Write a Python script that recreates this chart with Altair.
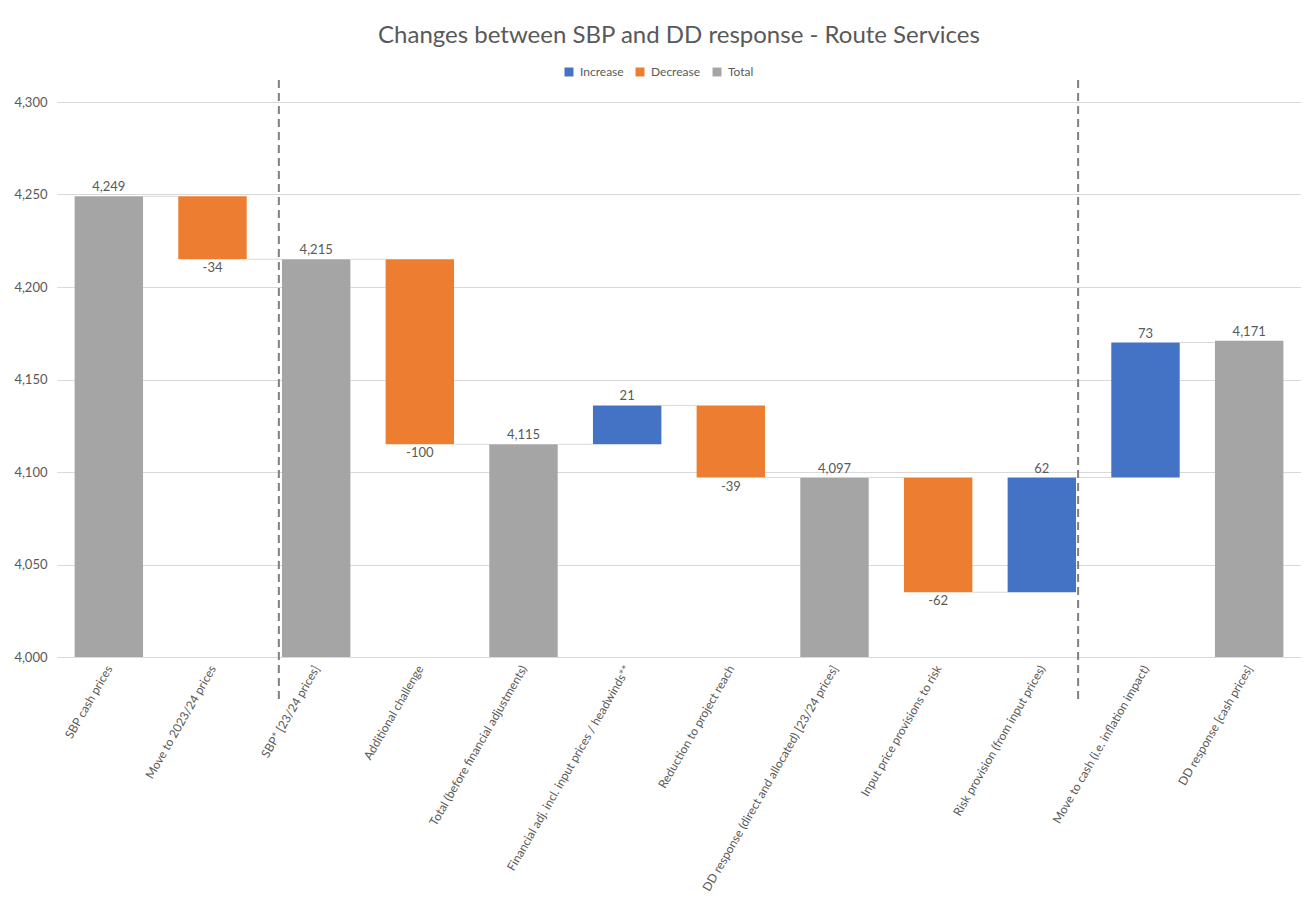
import altair as alt
import pandas as pd

categories = [
    "SBP cash prices",
    "Move to 2023/24 prices",
    "SBP* [23/24 prices]",
    "Additional challenge",
    "Total (before financial adjustments)",
    "Financial adj. incl. input prices / headwinds**",
    "Reduction to project reach",
    "DD response (direct and allocated) [23/24 prices]",
    "Input price provisions to risk",
    "Risk provision (from input prices)",
    "Move to cash (i.e. inflation impact)",
    "DD response [cash prices]",
]
kinds = ["Total", "Decrease", "Total", "Decrease", "Total", "Increase",
         "Decrease", "Total", "Decrease", "Increase", "Increase", "Total"]
values = [4249, -34, 4215, -100, 4115, 21, -39, 4097, -62, 62, 73, 4171]
separator_positions = [1.64, 9.35]

y_min, y_max = 4000, 4300
half = 0.33
TXT = "#595959"

rows = []
level = 0
for i, (c, k, v) in enumerate(zip(categories, kinds, values)):
    if k == "Total":
        start, end = y_min, v
    else:
        start, end = level, level + v
    label = f"{v:,}"
    level = end
    rows.append(dict(idx=i, cat=c, kind=k, start=start, end=end,
                     x0=i - half, x1=i + half, label=label,
                     ly=end, below=(k == "Decrease")))
df = pd.DataFrame(rows)

conn = pd.DataFrame([
    dict(x0=i + half, x1=i + 1 - half, lvl=rows[i]["end"])
    for i in range(len(rows) - 1)
])
seps = pd.DataFrame({"xs": separator_positions})

label_arr = "[" + ",".join("'" + c.replace("'", "\\'") + "'" for c in categories) + "]"

xscale = alt.Scale(domain=[-0.5, len(categories) - 0.5], nice=False, zero=False)
yscale = alt.Scale(domain=[y_min, y_max], nice=False, zero=False)

x_axis = alt.Axis(values=list(range(len(categories))), labelExpr=label_arr + "[datum.value]",
                  labelAngle=-60, labelAlign="right", labelBaseline="middle",
                  labelFontSize=12, labelColor=TXT, labelPadding=9,
                  grid=False, domain=False, ticks=False, title=None, labelOverlap=False,
                  labelLimit=400)
y_axis = alt.Axis(values=list(range(y_min, y_max + 1, 50)), format=",.0f",
                  labelFontSize=13, labelColor=TXT, labelPadding=10,
                  domain=False, ticks=False, grid=True, gridColor="#D9D9D9", title=None)

connectors = alt.Chart(conn).mark_rule(color="#D9D9D9", strokeWidth=1).encode(
    x=alt.X("x0:Q", scale=xscale, axis=x_axis),
    x2="x1:Q",
    y=alt.Y("lvl:Q", scale=yscale, axis=y_axis),
)

bars = alt.Chart(df).mark_bar().encode(
    x=alt.X("x0:Q", scale=xscale),
    x2="x1:Q",
    y=alt.Y("start:Q", scale=yscale),
    y2="end:Q",
    color=alt.Color("kind:N",
                    scale=alt.Scale(domain=["Increase", "Decrease", "Total"],
                                    range=["#4472C4", "#ED7D31", "#A5A5A5"]),
                    legend=alt.Legend(title=None, orient="none", direction="horizontal",
                                      legendX=506, legendY=-36, symbolType="square",
                                      symbolSize=80, labelFontSize=12, labelColor=TXT,
                                      columnPadding=10, labelOffset=5, padding=0)),
)

labels_above = alt.Chart(df[~df["below"]]).mark_text(
    baseline="bottom", dy=-2, fontSize=13, color=TXT).encode(
    x=alt.X("idx:Q", scale=xscale), y=alt.Y("ly:Q", scale=yscale), text="label:N")
labels_below = alt.Chart(df[df["below"]]).mark_text(
    baseline="top", dy=3, fontSize=13, color=TXT).encode(
    x=alt.X("idx:Q", scale=xscale), y=alt.Y("ly:Q", scale=yscale), text="label:N")

separators = alt.Chart(seps).mark_rule(color="#808080", strokeWidth=2,
                                        strokeDash=[8, 5]).encode(
    x=alt.X("xs:Q", scale=xscale),
    y=alt.value(-22),
    y2=alt.value(600),
)

chart = alt.layer(connectors, bars, labels_above, labels_below, separators).properties(
    width=1244, height=555,
    title=alt.TitleParams("Changes between SBP and DD response - Route Services",
                          fontSize=24, color=TXT, fontWeight="normal", anchor="middle",
                          offset=18, font="Lato"),
    autosize=alt.AutoSizeParams(type="none"),
    padding={"left": 49, "top": 94, "right": 0, "bottom": 243},
).configure(font="Lato").configure_view(stroke=None)

chart.save("out.html", embed_options={"renderer": "svg", "actions": False})
